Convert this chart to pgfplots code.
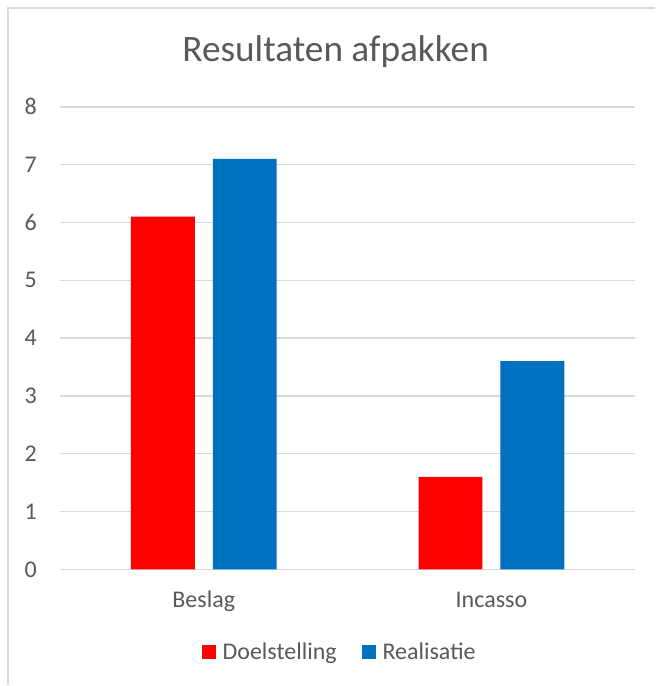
\documentclass[border=0pt]{standalone}
\usepackage{pgfplots}
\pgfplotsset{compat=1.18}
\usepackage{fontspec}
\setmainfont{Carlito}
\definecolor{txt}{HTML}{595959}
\definecolor{gridc}{HTML}{D9D9D9}
\definecolor{redA}{HTML}{FF0000}
\definecolor{blueA}{HTML}{0070C0}
\begin{document}
\begin{tikzpicture}
\path (0pt,0pt) rectangle (492pt,514.5pt);
\draw[gridc, line width=1.2pt] (6pt,0pt) -- (6pt,508.5pt) -- (492pt,508.5pt);
\node[anchor=base, inner sep=0pt, font=\fontsize{28}{34}\selectfont, text=txt] at (252pt,468pt) {Resultaten afpakken};
\begin{axis}[
  at={(45pt,87pt)}, anchor=south west,
  scale only axis, width=432pt, height=347.25pt,
  ybar=13.5pt, bar width=48pt,
  xmin=-0.5, xmax=1.5, ymin=0, ymax=8,
  ytick={0,1,...,8}, xtick={0,1}, xticklabels={Beslag,Incasso},
  axis line style={draw=none},
  major tick length=0pt,
  ymajorgrids, grid style={gridc, line width=1.1pt},
  tick label style={font=\fontsize{18}{22}\selectfont, text=txt},
  /pgf/number format/assume math mode=true,
  yticklabel style={anchor=east, inner sep=0pt, xshift=-17.25pt},
  xticklabel style={anchor=base, inner sep=0pt, yshift=-28.5pt},
  legend style={at={(0.487,-0.179)}, anchor=center, draw=none, fill=none,
    legend columns=2, font=\fontsize{18}{22}\selectfont, text=txt,
    /tikz/every odd column/.append style={column sep=3pt},
    /tikz/every even column/.append style={column sep=17pt}},
  legend image code/.code={\fill[#1] (0pt,-5.25pt) rectangle (10.5pt,5.25pt);},
]
\addplot[fill=redA, draw=none] coordinates {(0,6.1) (1,1.6)};
\addplot[fill=blueA, draw=none] coordinates {(0,7.1) (1,3.6)};
\legend{Doelstelling,Realisatie}
\end{axis}
\end{tikzpicture}
\end{document}
